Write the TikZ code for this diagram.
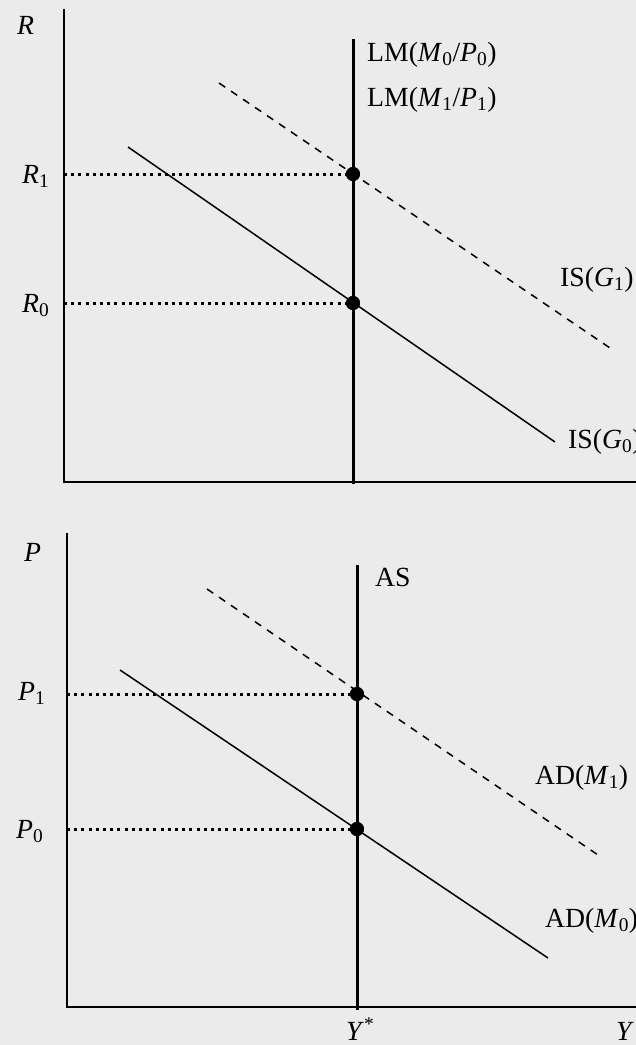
\documentclass[tikz,border=0pt]{standalone}
\usepackage{fontspec}
\setmainfont{Liberation Serif}
\definecolor{bg}{RGB}{235,235,235}
\begin{document}
\begin{tikzpicture}[x=1pt,y=-1pt,
  axis/.style={line width=2.6pt},
  vline/.style={line width=3pt},
  curve/.style={line width=1.5pt},
  shifted/.style={line width=1.5pt, dash pattern=on 7.5pt off 7pt},
  guide/.style={line width=3pt, dash pattern=on 3pt off 4.2pt},
  eq/.style={circle, fill=black, inner sep=0pt, minimum size=14pt},
  lab/.style={anchor=base west, inner sep=0pt, font=\fontsize{27.7}{30}\selectfont}]
\fill[bg] (0,0) rectangle (636,1045);
\useasboundingbox (0,0) rectangle (636,1045);
% ---------- top panel: IS-LM ----------
\coordinate (ytop1) at (64,9);
\coordinate (o1) at (64,482);
\coordinate (xend1) at (640,482);
\coordinate (lmtop) at (353,39);
\coordinate (lmbot) at (353,484);
\coordinate (is0a) at (128,147);
\coordinate (is0b) at (555,442);
\coordinate (is1a) at (219,83);
\coordinate (is1b) at (613,350);
\coordinate (r1) at (64,174);
\coordinate (r0) at (64,303);
\node[eq] (e1) at (353,174) {};
\node[eq] (e0) at (353,303) {};
\draw[guide] (r1) -- (e1.center);
\draw[guide] (r0) -- (e0.center);
\draw[axis] (ytop1) -- (o1) -- (xend1);
\draw[vline] (lmtop) -- (lmbot);
\draw[curve] (is0a) -- (is0b);
\draw[shifted] (is1a) -- (is1b);
\node[eq] at (e1) {};
\node[eq] at (e0) {};
\node[lab] (R) at (17,34) {\textit{R}};
\node[lab] (R1) at (22,183) {\textit{R}\textsubscript{1}};
\node[lab] (R0) at (22,312) {\textit{R}\textsubscript{0}};
\node[lab] (LM0) at (367,61) {LM(\textit{M}\textsubscript{0}/\textit{P}\textsubscript{0})};
\node[lab] (LM1) at (367,106) {LM(\textit{M}\textsubscript{1}/\textit{P}\textsubscript{1})};
\node[lab] (IS1) at (560,286) {IS(\textit{G}\textsubscript{1})};
\node[lab] (IS0) at (568,448) {IS(\textit{G}\textsubscript{0})};
% ---------- bottom panel: AS-AD ----------
\coordinate (ytop2) at (67,533);
\coordinate (o2) at (67,1007);
\coordinate (xend2) at (640,1007);
\coordinate (astop) at (357,565);
\coordinate (asbot) at (357,1010);
\coordinate (ad0a) at (120,670);
\coordinate (ad0b) at (548,958);
\coordinate (ad1a) at (207,589);
\coordinate (ad1b) at (601,857);
\coordinate (p1) at (67,694);
\coordinate (p0) at (67,829);
\node[eq] (f1) at (357,694) {};
\node[eq] (f0) at (357,829) {};
\draw[guide] (p1) -- (f1.center);
\draw[guide] (p0) -- (f0.center);
\draw[axis] (ytop2) -- (o2) -- (xend2);
\draw[vline] (astop) -- (asbot);
\draw[curve] (ad0a) -- (ad0b);
\draw[shifted] (ad1a) -- (ad1b);
\node[eq] at (f1) {};
\node[eq] at (f0) {};
\node[lab] (P) at (24,561) {\textit{P}};
\node[lab] (P1) at (18,700) {\textit{P}\textsubscript{1}};
\node[lab] (P0) at (16,838) {\textit{P}\textsubscript{0}};
\node[lab] (AS) at (375,586) {AS};
\node[lab] (AD1) at (535,784) {AD(\textit{M}\textsubscript{1})};
\node[lab] (AD0) at (545,927) {AD(\textit{M}\textsubscript{0})};
\node[lab] (Ystar) at (346,1040) {\textit{Y}\textsuperscript{*}};
\node[lab] (Y) at (616,1040) {\textit{Y}};
\end{tikzpicture}
\end{document}
